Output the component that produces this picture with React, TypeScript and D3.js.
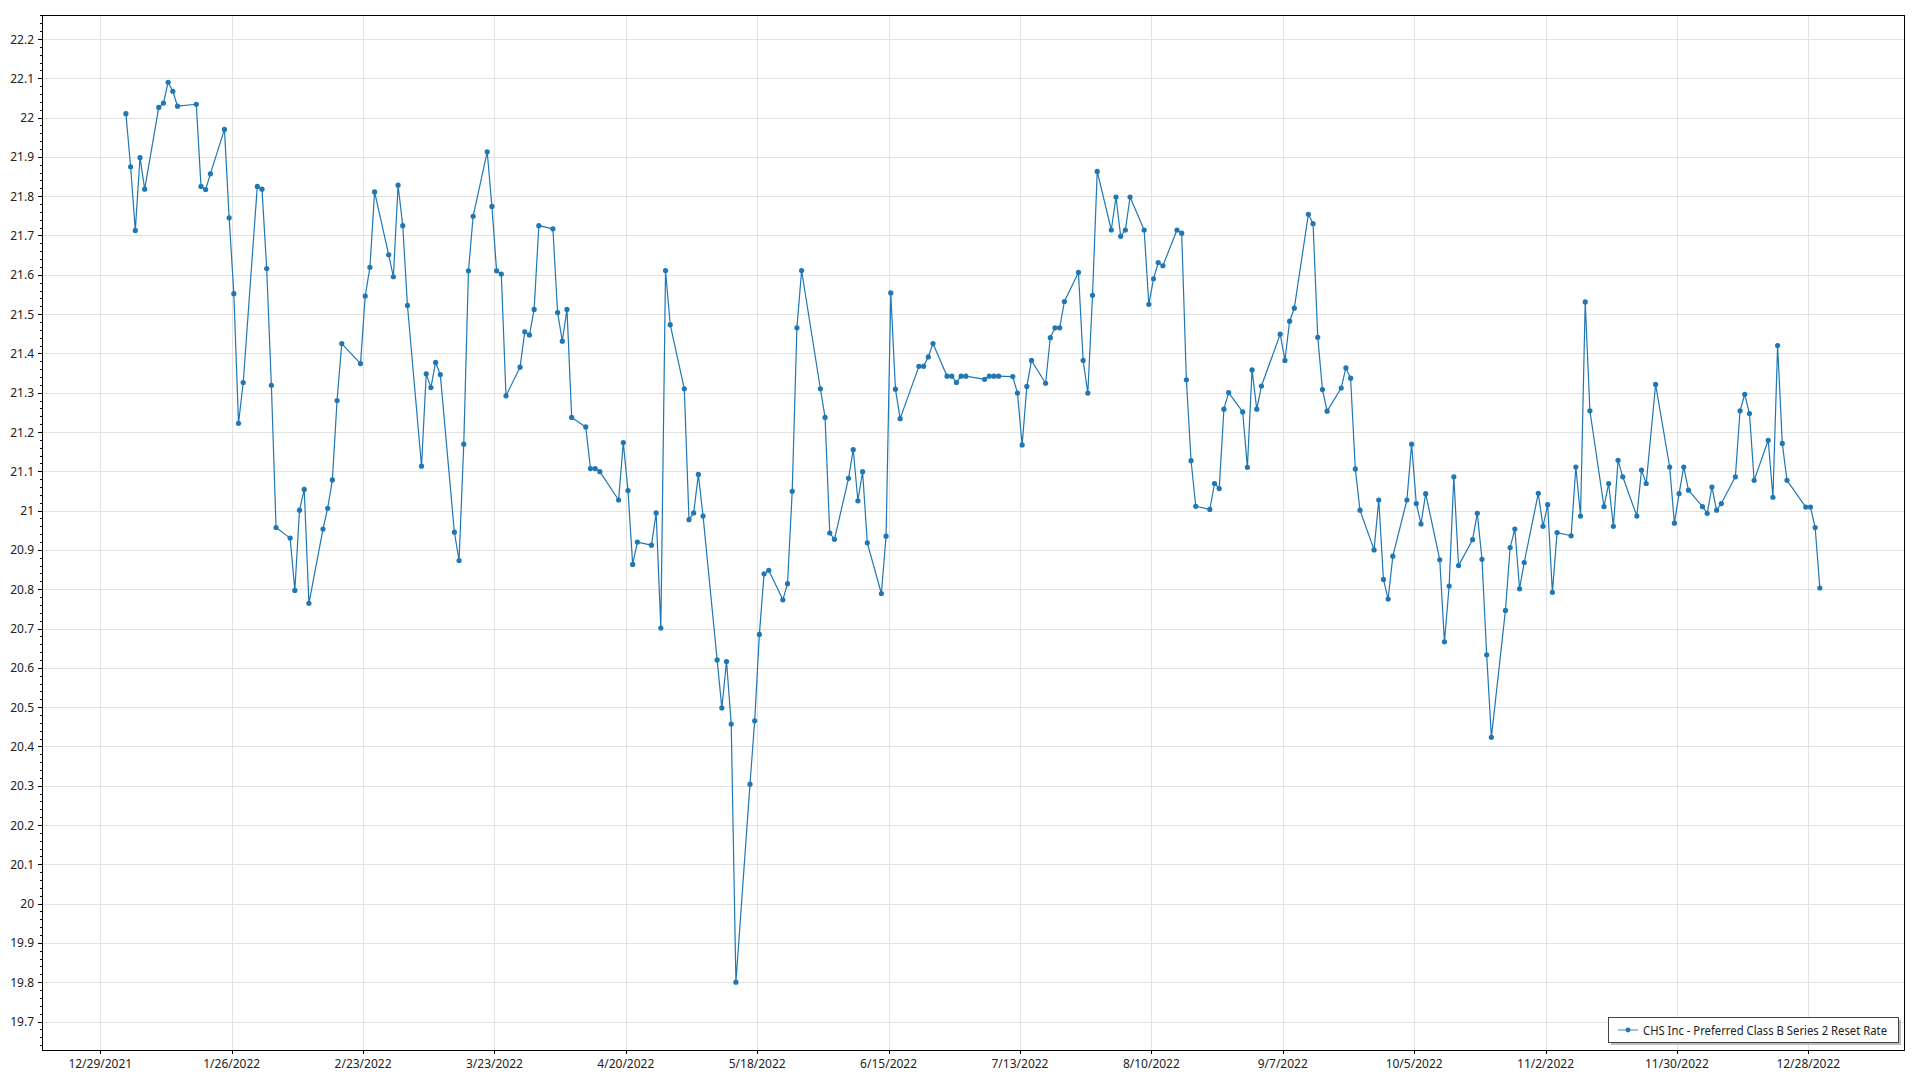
import { useMemo } from "react";
import * as d3 from "d3";

const WIDTH = 1920;
const HEIGHT = 1080;
// plot frame (inside the black border)
const PLOT = { left: 42, top: 15, right: 1905, bottom: 1050 };
const FONT = "'Segoe UI', 'Noto Sans', sans-serif";
const BLUE = "#1f77b4";

const SERIES_NAME = "CHS Inc - Preferred Class B Series 2 Reset Rate";

// trading days of 2022 (MM-DD), one row per month
const tradingDays = [
  "01-03", "01-04", "01-05", "01-06", "01-07", "01-10", "01-11", "01-12", "01-13", "01-14", "01-18", "01-19", "01-20", "01-21", "01-24", "01-25", "01-26", "01-27", "01-28", "01-31",
  "02-01", "02-02", "02-03", "02-04", "02-07", "02-08", "02-09", "02-10", "02-11", "02-14", "02-15", "02-16", "02-17", "02-18", "02-22", "02-23", "02-24", "02-25", "02-28",
  "03-01", "03-02", "03-03", "03-04", "03-07", "03-08", "03-09", "03-10", "03-11", "03-14", "03-15", "03-16", "03-17", "03-18", "03-21", "03-22", "03-23", "03-24", "03-25", "03-28", "03-29", "03-30", "03-31",
  "04-01", "04-04", "04-05", "04-06", "04-07", "04-08", "04-11", "04-12", "04-13", "04-14", "04-18", "04-19", "04-20", "04-21", "04-22", "04-25", "04-26", "04-27", "04-28", "04-29",
  "05-02", "05-03", "05-04", "05-05", "05-06", "05-09", "05-10", "05-11", "05-12", "05-13", "05-16", "05-17", "05-18", "05-19", "05-20", "05-23", "05-24", "05-25", "05-26", "05-27", "05-31",
  "06-01", "06-02", "06-03", "06-06", "06-07", "06-08", "06-09", "06-10", "06-13", "06-14", "06-15", "06-16", "06-17", "06-21", "06-22", "06-23", "06-24", "06-27", "06-28", "06-29", "06-30",
  "07-01", "07-05", "07-06", "07-07", "07-08", "07-11", "07-12", "07-13", "07-14", "07-15", "07-18", "07-19", "07-20", "07-21", "07-22", "07-25", "07-26", "07-27", "07-28", "07-29",
  "08-01", "08-02", "08-03", "08-04", "08-05", "08-08", "08-09", "08-10", "08-11", "08-12", "08-15", "08-16", "08-17", "08-18", "08-19", "08-22", "08-23", "08-24", "08-25", "08-26", "08-29", "08-30", "08-31",
  "09-01", "09-02", "09-06", "09-07", "09-08", "09-09", "09-12", "09-13", "09-14", "09-15", "09-16", "09-19", "09-20", "09-21", "09-22", "09-23", "09-26", "09-27", "09-28", "09-29", "09-30",
  "10-03", "10-04", "10-05", "10-06", "10-07", "10-10", "10-11", "10-12", "10-13", "10-14", "10-17", "10-18", "10-19", "10-20", "10-21", "10-24", "10-25", "10-26", "10-27", "10-28", "10-31",
  "11-01", "11-02", "11-03", "11-04", "11-07", "11-08", "11-09", "11-10", "11-11", "11-14", "11-15", "11-16", "11-17", "11-18", "11-21", "11-22", "11-23", "11-25", "11-28", "11-29", "11-30",
  "12-01", "12-02", "12-05", "12-06", "12-07", "12-08", "12-09", "12-12", "12-13", "12-14", "12-15", "12-16", "12-19", "12-20", "12-21", "12-22", "12-23", "12-27", "12-28", "12-29", "12-30",
];

// reset rate, same order as tradingDays
const closePrices = [
  22.01, 21.875, 21.713, 21.898, 21.818, 22.026, 22.037, 22.09, 22.067, 22.029, 22.034, 21.825, 21.817, 21.857, 21.97, 21.745, 21.552, 21.222, 21.326, 21.825,
  21.818, 21.616, 21.319, 20.957, 20.93, 20.797, 21.001, 21.054, 20.764, 20.953, 21.006, 21.078, 21.28, 21.425, 21.374, 21.546, 21.619, 21.811, 21.651,
  21.595, 21.828, 21.725, 21.522, 21.113, 21.348, 21.313, 21.377, 21.346, 20.945, 20.873, 21.169, 21.61, 21.749, 21.913, 21.774, 21.61, 21.602, 21.292, 21.365, 21.455, 21.447, 21.512,
  21.725, 21.717, 21.504, 21.431, 21.512, 21.237, 21.213, 21.107, 21.107, 21.099, 21.027, 21.173, 21.051, 20.863, 20.92, 20.912, 20.994, 20.701, 21.611, 21.473,
  21.31, 20.977, 20.994, 21.092, 20.986, 20.62, 20.498, 20.616, 20.457, 19.8, 20.304, 20.465, 20.685, 20.839, 20.848, 20.773, 20.814, 21.049, 21.465, 21.611, 21.31,
  21.237, 20.943, 20.927, 21.082, 21.155, 21.025, 21.099, 20.918, 20.789, 20.935, 21.554, 21.309, 21.234, 21.367, 21.367, 21.391, 21.425, 21.342, 21.342, 21.326, 21.342,
  21.342, 21.334, 21.342, 21.342, 21.342, 21.341, 21.299, 21.167, 21.316, 21.382, 21.324, 21.44, 21.465, 21.465, 21.532, 21.606, 21.382, 21.299, 21.548, 21.863,
  21.714, 21.798, 21.698, 21.714, 21.798, 21.714, 21.525, 21.59, 21.631, 21.623, 21.714, 21.706, 21.333, 21.127, 21.011, 21.003, 21.069, 21.056, 21.258, 21.3, 21.251, 21.11, 21.358,
  21.258, 21.317, 21.449, 21.382, 21.482, 21.515, 21.754, 21.73, 21.441, 21.308, 21.253, 21.312, 21.363, 21.337, 21.106, 21.001, 20.9, 21.027, 20.825, 20.775, 20.884,
  21.027, 21.169, 21.018, 20.966, 21.043, 20.875, 20.666, 20.808, 21.086, 20.86, 20.926, 20.993, 20.876, 20.633, 20.423, 20.746, 20.906, 20.953, 20.801, 20.868, 21.044,
  20.96, 21.015, 20.792, 20.944, 20.936, 21.111, 20.986, 21.531, 21.254, 21.01, 21.069, 20.96, 21.128, 21.086, 20.986, 21.103, 21.069, 21.321, 21.111, 20.968, 21.043,
  21.111, 21.052, 21.01, 20.993, 21.06, 21.001, 21.018, 21.086, 21.254, 21.296, 21.247, 21.077, 21.179, 21.034, 21.42, 21.171, 21.077, 21.009, 21.009, 20.957, 20.803,
];

const xTickLabels = [
  "12/29/2021", "1/26/2022", "2/23/2022", "3/23/2022", "4/20/2022", "5/18/2022", "6/15/2022",
  "7/13/2022", "8/10/2022", "9/7/2022", "10/5/2022", "11/2/2022", "11/30/2022", "12/28/2022",
];

const yTickValues = [
  19.7, 19.8, 19.9, 20, 20.1, 20.2, 20.3, 20.4, 20.5, 20.6, 20.7, 20.8, 20.9,
  21, 21.1, 21.2, 21.3, 21.4, 21.5, 21.6, 21.7, 21.8, 21.9, 22, 22.1, 22.2,
];

type Point = { date: Date; value: number };

const parseDay = d3.timeParse("%Y-%m-%d");
const parseTick = d3.timeParse("%m/%d/%Y");

export default function App() {
  const points: Point[] = useMemo(
    () =>
      tradingDays.map((d, i) => ({
        // quotes are stamped late in the day, which shifts them right of midnight
        date: d3.timeHour.offset(parseDay(`2022-${d}`) as Date, 11),
        value: closePrices[i],
      })),
    []
  );
  const tickDates = xTickLabels.map((s) => parseTick(s) as Date);

  // anchored on the first and last labelled dates
  const xScale = d3
    .scaleTime()
    .domain([tickDates[0], tickDates[tickDates.length - 1]])
    .range([100.3, 1808.3]);

  const yScale = d3.scaleLinear().domain([19.7, 22.2]).range([1021.5, 39]);

  const linePath = d3
    .line<Point>()
    .x((d) => xScale(d.date))
    .y((d) => yScale(d.value))(points) as string;

  const [yLo, yHi] = [yScale.invert(PLOT.bottom), yScale.invert(PLOT.top)];
  const minorTicks = d3
    .range(Math.ceil(yLo * 50), Math.floor(yHi * 50) + 1)
    .map((k) => k / 50)
    .filter((v) => Math.abs(v * 10 - Math.round(v * 10)) > 1e-6);

  const crisp = (v: number) => Math.round(v) + 0.5;

  return (
    <svg
      width={WIDTH}
      height={HEIGHT}
      style={{ position: "absolute", left: 0, top: 0, display: "block", background: "#fff" }}
      fontFamily={FONT}
    >
      <defs>
        <clipPath id="plot-clip">
          <rect x={PLOT.left} y={PLOT.top} width={PLOT.right - PLOT.left} height={PLOT.bottom - PLOT.top} />
        </clipPath>
      </defs>

      {/* grid */}
      <g stroke="#e3e3e3" strokeWidth={1}>
        {yTickValues.map((v) => (
          <line key={`gy${v}`} x1={PLOT.left} x2={PLOT.right} y1={crisp(yScale(v))} y2={crisp(yScale(v))} />
        ))}
        {tickDates.map((d, i) => (
          <line key={`gx${i}`} x1={crisp(xScale(d))} x2={crisp(xScale(d))} y1={PLOT.top} y2={PLOT.bottom} />
        ))}
      </g>

      {/* series */}
      <g clipPath="url(#plot-clip)">
        <path d={linePath} fill="none" stroke={BLUE} strokeWidth={1.2} strokeLinejoin="round" />
        {points.map((p, i) => (
          <circle key={i} cx={xScale(p.date)} cy={yScale(p.value)} r={2.6} fill={BLUE} />
        ))}
      </g>

      {/* frame */}
      <rect
        x={PLOT.left + 0.5}
        y={PLOT.top + 0.5}
        width={PLOT.right - PLOT.left - 1}
        height={PLOT.bottom - PLOT.top}
        fill="none"
        stroke="#000"
        strokeWidth={1}
      />

      {/* y axis */}
      <g stroke="#000" strokeWidth={1}>
        {yTickValues.map((v) => (
          <line key={`ty${v}`} x1={PLOT.left - 4} x2={PLOT.left} y1={crisp(yScale(v))} y2={crisp(yScale(v))} />
        ))}
        {minorTicks.map((v) => (
          <line key={`my${v}`} x1={PLOT.left - 2} x2={PLOT.left} y1={crisp(yScale(v))} y2={crisp(yScale(v))} />
        ))}
      </g>
      <g fontSize={12} fill="#222" textAnchor="end">
        {yTickValues.map((v) => (
          <text key={`ly${v}`} x={34} y={yScale(v)} dominantBaseline="central">
            {d3.format("~g")(v)}
          </text>
        ))}
      </g>

      {/* x axis */}
      <g stroke="#000" strokeWidth={1}>
        {tickDates.map((d, i) => (
          <line key={`tx${i}`} x1={crisp(xScale(d))} x2={crisp(xScale(d))} y1={PLOT.bottom} y2={PLOT.bottom + 4} />
        ))}
      </g>
      <g fontSize={12} fill="#222" textAnchor="middle">
        {tickDates.map((d, i) => (
          <text key={`lx${i}`} x={xScale(d)} y={1063} dominantBaseline="central">
            {xTickLabels[i]}
          </text>
        ))}
      </g>

      {/* legend */}
      <g>
        <rect x={1611} y={1020} width={290} height={25} fill="#bdbdbd" />
        <rect x={1608.5} y={1017.5} width={290} height={25} fill="#fff" stroke="#444" strokeWidth={1} />
        <line x1={1618} x2={1638} y1={1030} y2={1030} stroke={BLUE} strokeOpacity={0.6} strokeWidth={1.5} />
        <circle cx={1628} cy={1030} r={2.4} fill={BLUE} />
        <text
          x={1643}
          y={1030}
          fontSize={12}
          fill="#222"
          dominantBaseline="central"
          textLength={244}
          lengthAdjust="spacingAndGlyphs"
        >
          {SERIES_NAME}
        </text>
      </g>
    </svg>
  );
}
